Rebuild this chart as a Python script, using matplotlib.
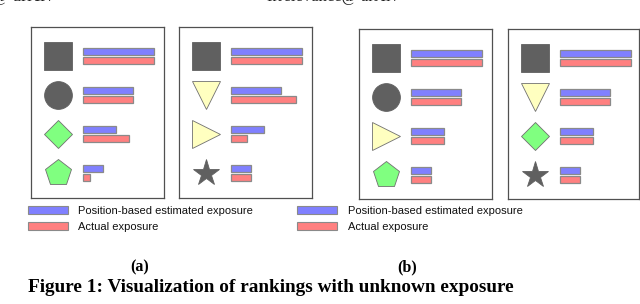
import matplotlib
matplotlib.use("Agg")
import matplotlib.pyplot as plt
from matplotlib.patches import Rectangle

# ---------------- data ----------------
DARK = "#606060"
GREEN = "#80ff80"
YELLOW = "#ffffc0"

a_left_markers = ['s', 'o', 'D', 'p']
a_left_colors = [DARK, DARK, GREEN, GREEN]
a_left_est = [1.0, 0.70, 0.46, 0.28]
a_left_act = [1.0, 0.70, 0.65, 0.10]

a_right_markers = ['s', 'v', '>', '*']
a_right_colors = [DARK, YELLOW, YELLOW, DARK]
a_right_est = [1.0, 0.70, 0.46, 0.28]
a_right_act = [1.0, 0.91, 0.23, 0.28]

b_left_markers = ['s', 'o', '>', 'p']
b_left_colors = [DARK, DARK, YELLOW, GREEN]
b_left_est = [1.0, 0.70, 0.46, 0.28]
b_left_act = [1.0, 0.70, 0.46, 0.28]

b_right_markers = ['s', 'v', 'D', '*']
b_right_colors = [DARK, YELLOW, GREEN, DARK]
b_right_est = [1.0, 0.70, 0.46, 0.28]
b_right_act = [1.0, 0.70, 0.46, 0.28]

legend_labels = ["Position-based estimated exposure", "Actual exposure"]
panel_labels = ["(a)", "(b)"]
caption = "Figure 1: Visualization of rankings with unknown exposure"

BLUE = "#8080ff"
RED = "#ff8080"
EDGE = "#8a8a8a"

W, H = 640, 304
fig = plt.figure(figsize=(W / 100, H / 100), dpi=100)

# overlay axes in pixel coords for legends / labels
ov = fig.add_axes([0, 0, 1, 1])
ov.set_xlim(0, W)
ov.set_ylim(H, 0)
ov.axis('off')

boxes = [
    (31, 164, 27, 198, a_left_markers, a_left_colors, a_left_est, a_left_act),
    (179, 312, 27, 198, a_right_markers, a_right_colors, a_right_est, a_right_act),
    (359, 492, 29, 199, b_left_markers, b_left_colors, b_left_est, b_left_act),
    (508, 639, 29, 199, b_right_markers, b_right_colors, b_right_est, b_right_act),
]

BAR_START = 52.0   # px from box left
UNIT = 71.0        # px for value 1.0
MARK_X = 27.0      # px from box left
ROW0 = 29.0        # px from box top
ROWSTEP = 39.0

for (l, r, t, b, markers, colors, est, act) in boxes:
    w, h = r - l, b - t
    ax = fig.add_axes([l / W, 1 - b / H, w / W, h / H])
    ax.set_xlim(-BAR_START / UNIT, (w - BAR_START) / UNIT)
    ax.set_ylim((h - ROW0) / ROWSTEP, -ROW0 / ROWSTEP)
    ax.set_xticks([])
    ax.set_yticks([])
    for s in ax.spines.values():
        s.set_color("#505050")
        s.set_linewidth(0.9)
    rows = list(range(len(markers)))
    off = 4.5 / ROWSTEP
    hgt = 7.0 / ROWSTEP
    ax.barh([i - off for i in rows], est, height=hgt, left=0, color=BLUE,
            edgecolor=EDGE, linewidth=0.9)
    ax.barh([i + off for i in rows], act, height=hgt, left=0, color=RED,
            edgecolor=EDGE, linewidth=0.9)
    mx = (MARK_X - BAR_START) / UNIT
    for i, (m, c) in enumerate(zip(markers, colors)):
        ms = 14.3 if m == 'D' else 20
        ec = DARK if c == DARK else "#707070"
        ax.plot([mx], [i], marker=m, markersize=ms, color=c,
                markeredgecolor=ec, markeredgewidth=0.6, linestyle='none')

# legends
for (px, tx) in [(28, 78), (297, 348)]:
    for j, (col, lab) in enumerate(zip([BLUE, RED], legend_labels)):
        y = 206 + 16 * j
        ov.add_patch(Rectangle((px, y), 40, 8, facecolor=col,
                               edgecolor=EDGE, linewidth=0.8))
        ov.text(tx, y + 4.5, lab, fontsize=8.0, family="Liberation Sans",
                va='center', ha='left', color="#111111")

# panel labels
for x, lab in zip([140, 407], panel_labels):
    ov.text(x, 267, lab, fontsize=11.5, family="Liberation Serif",
            fontweight='bold', ha='center', va='center')

ov.text(271, 287, caption, fontsize=13.9, family="Liberation Serif",
        fontweight='bold', ha='center', va='center')

# clipped running-head fragments at the very top
ov.text(-8, 1.2, "@ arXiv", fontsize=13, family="Liberation Serif",
        ha='left', va='baseline', color="#222222")
ov.text(267, 1.2, "Irrelevance@ arXiv", fontsize=12, family="Liberation Serif",
        ha='left', va='baseline', color="#222222")

fig.savefig("out.png", dpi=100)
